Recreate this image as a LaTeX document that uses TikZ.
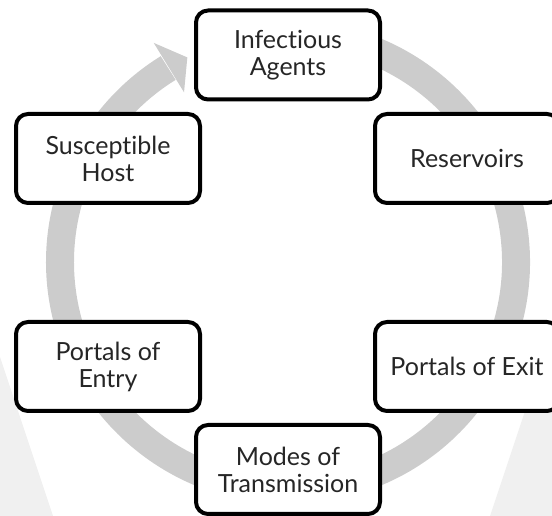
\documentclass[tikz,border=0pt]{standalone}
\usepackage{fontspec}
\setmainfont{Lato}[Ligatures={NoCommon,NoRequired,NoContextual}]
\begin{document}
\begin{tikzpicture}[x=1pt,y=1pt,
  stage/.style={draw=black, line width=4pt, rounded corners=12pt, fill=white,
    minimum width=184pt, minimum height=89pt, align=center,
    font=\fontsize{25}{27}\selectfont, text=black!85, inner sep=0pt},
  ringcol/.style={black!20},
  bgshade/.style={fill=black!6}]
\clip (0,0) rectangle (552,516);
% faint background shapes
\path[bgshade] (0,0) -- (53,0) -- (0,159) -- cycle;
\path[bgshade] (490,0) -- (552,0) -- (552,186) -- cycle;
% circular arrow
\coordinate (c) at (288,254);
\draw[ringcol, line width=28pt] ([shift={(100:228)}]c) arc[start angle=100, end angle=-238.3, radius=228];
\fill[ringcol] ([shift={(121.5:199)}]c) -- ([shift={(121.5:257)}]c) -- ([shift={(116.2:228)}]c) -- cycle;
% stages
\node[stage] (ia) at (288,461) {Infect{}ious\\Agents};
\node[stage] (res) at (467,357.5) {Reservoirs};
\node[stage] (sh) at (108,357.5) {Suscept{}ible\\Host};
\node[stage] (pe) at (108,149.5) {Portals of\\Entry};
\node[stage] (px) at (467,149.5) {Portals of Exit};
\node[stage] (mt) at (288,46.5) {Modes of\\Transmission};
\end{tikzpicture}
\end{document}
